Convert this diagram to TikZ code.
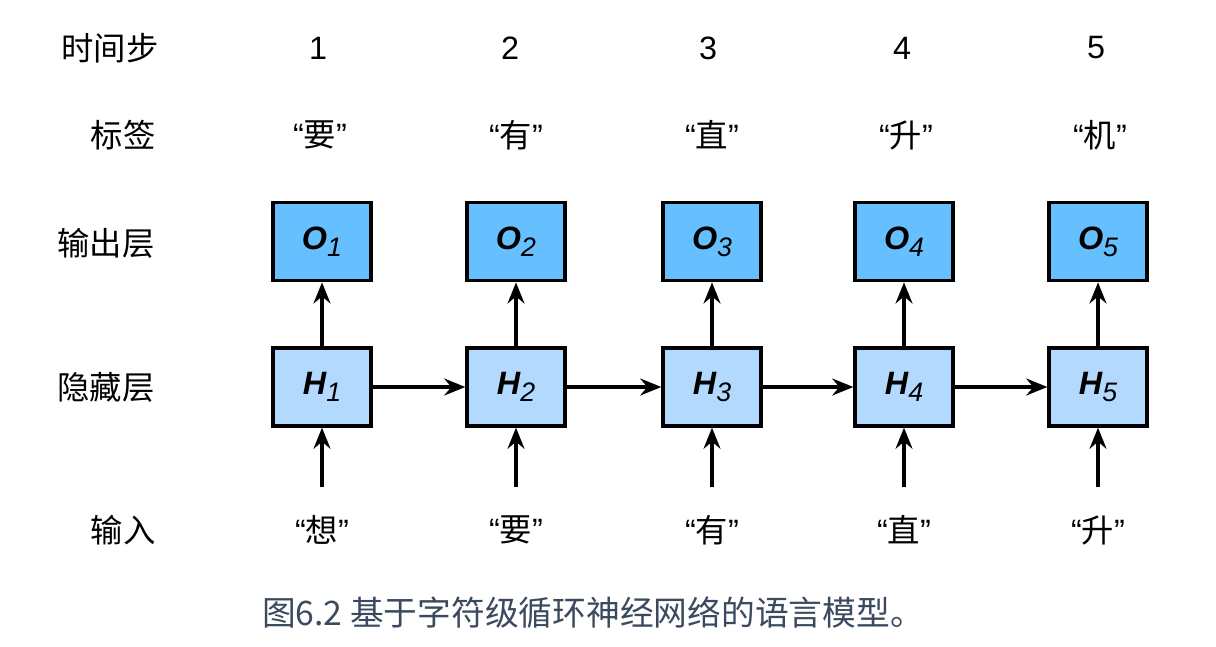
\documentclass[tikz,border=0pt]{standalone}
\usepackage{fontspec}
\setmainfont{Noto Sans CJK SC}
\newfontfamily\latinfont{Liberation Sans}
\usetikzlibrary{positioning, arrows.meta}

\definecolor{outblue}{RGB}{102,191,255}
\definecolor{hidblue}{RGB}{179,217,255}
\definecolor{capgray}{RGB}{59,74,94}

\newcommand{\quoted}[1]{{\latinfont “}#1{\latinfont ”}}
\newcommand{\boxlab}[2]{{\latinfont\bfseries\itshape #1}\raisebox{-5pt}{\latinfont\itshape\fontsize{19}{19}\selectfont #2}}

\begin{document}
\begin{tikzpicture}[x=0.025cm, y=-0.025cm, node distance=1.6cm,
    every node/.style={font=\fontsize{23}{27}\selectfont},
    outbox/.style={draw, line width=2.3pt, fill=outblue, minimum width=2.45cm, minimum height=1.95cm, inner sep=0pt, font=\fontsize{23}{26}\selectfont},
    hidbox/.style={outbox, fill=hidblue},
    >={Stealth[length=15pt, width=12pt, inset=5pt]}, line width=2.5pt]

    \useasboundingbox (0,0) rectangle (1216,646);

    % Row titles
    \node (steptitle) at (110,48) {时间步};
    \node (labeltitle) at (123,135) {标签};
    \node (outtitle) at (106,243) {输出层};
    \node (hidtitle) at (106,387) {隐藏层};
    \node (intitle) at (123,530) {输入};

    % Time steps
    \node (t1) at (318,48) {\latinfont 1};
    \node (t2) at (510,48) {\latinfont 2};
    \node (t3) at (708,48) {\latinfont 3};
    \node (t4) at (902,48) {\latinfont 4};
    \node (t5) at (1096,48) {\latinfont 5};

    % Labels
    \node (y1) at (320,135) {\quoted{要}};
    \node (y2) at (516,135) {\quoted{有}};
    \node (y3) at (712,135) {\quoted{直}};
    \node (y4) at (906,135) {\quoted{升}};
    \node (y5) at (1100,135) {\quoted{机}};

    % Hidden layer
    \node[hidbox] (h1) at (322,387) {\boxlab{H}{1}};
    \node[hidbox] (h2) at (516,387) {\boxlab{H}{2}};
    \node[hidbox] (h3) at (712,387) {\boxlab{H}{3}};
    \node[hidbox] (h4) at (904,387) {\boxlab{H}{4}};
    \node[hidbox] (h5) at (1098,387) {\boxlab{H}{5}};

    % Output layer
    \node[outbox] (o1) [above=1.6cm of h1] {\boxlab{O}{1}};
    \node[outbox] (o2) [above=1.6cm of h2] {\boxlab{O}{2}};
    \node[outbox] (o3) [above=1.6cm of h3] {\boxlab{O}{3}};
    \node[outbox] (o4) [above=1.6cm of h4] {\boxlab{O}{4}};
    \node[outbox] (o5) [above=1.6cm of h5] {\boxlab{O}{5}};

    % Inputs
    \node (x1) at (322,530) {\quoted{想}};
    \node (x2) at (516,530) {\quoted{要}};
    \node (x3) at (712,530) {\quoted{有}};
    \node (x4) at (904,530) {\quoted{直}};
    \node (x5) at (1098,530) {\quoted{升}};
    \coordinate (s1) at (322,487);
    \coordinate (s2) at (516,487);
    \coordinate (s3) at (712,487);
    \coordinate (s4) at (904,487);
    \coordinate (s5) at (1098,487);

    % Arrows
    \draw[->] (s1) -- (h1);
    \draw[->] (s2) -- (h2);
    \draw[->] (s3) -- (h3);
    \draw[->] (s4) -- (h4);
    \draw[->] (s5) -- (h5);
    \draw[->] (h1) -- (o1);
    \draw[->] (h2) -- (o2);
    \draw[->] (h3) -- (o3);
    \draw[->] (h4) -- (o4);
    \draw[->] (h5) -- (o5);
    \draw[->] (h1) -- (h2);
    \draw[->] (h2) -- (h3);
    \draw[->] (h3) -- (h4);
    \draw[->] (h4) -- (h5);

    % Caption
    \node[text=capgray, font=\fontsize{24}{28}\selectfont] (caption) at (593,613) {图6.2 基于字符级循环神经网络的语言模型。};

\end{tikzpicture}
\end{document}
